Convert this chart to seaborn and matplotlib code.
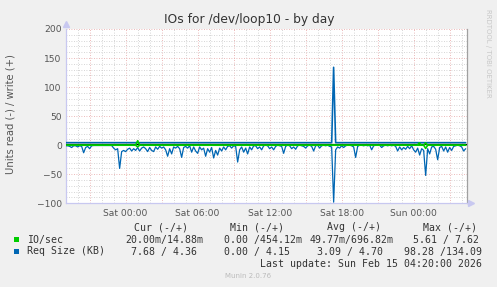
import numpy as np
import pandas as pd
import matplotlib
matplotlib.use("Agg")
import matplotlib.pyplot as plt
import matplotlib.transforms as mtransforms
from matplotlib.ticker import MultipleLocator, FixedLocator
import seaborn as sns

# ---------------- data ----------------
# time axis: hours relative to Sat 00:00, 10-minute samples for the read series
t_start = -5.0
step_h = 1.0 / 6.0
# Req Size read (KB) -- drawn on the negative side
req_read = [
    1, 1, 2, 4, 1, 1, 3, 1, 2, 13,
    4, 2, 6, 1, 0.5, 0.5, 0.5, 0.5, 0.5, 0.5,
    0.5, 0.5, 0.5, 0.5, 5, 8, 6, 40, 11, 9,
    11, 7, 5, 10, 6, 9, 4, 10, 5, 3,
    6, 11, 4, 9, 11, 3, 7, 2, 5, 3,
    8, 19, 6, 15, 3, 5, 2, 6, 21, 4,
    2, 5, 1, 12, 3, 10, 14, 3, 8, 5,
    19, 6, 12, 4, 22, 9, 17, 5, 10, 3,
    8, 2, 1, 5, 1, 2, 29, 8, 3, 12,
    5, 15, 3, 8, 1, 1, 6, 3, 8, 1,
    0, 1, 6, 3, 8, 2, 0, 1, 2, 14,
    2, 0, 1, 6, 3, 7, 1, 0, 1, 2,
    5, 1, 0, 2, 10, 1, 0, 5, 1, 0,
    1, 0, 2, 3, 98, 8, 3, 5, 1, 4,
    1, 0, 0, 1, 3, 21, 2, 0, 0, 1,
    0, 1, 0, 8, 1, 0, 0, 0, 4, 1,
    0, 1, 0, 1, 0, 2, 10, 3, 8, 4,
    7, 2, 6, 1, 8, 12, 5, 17, 6, 9,
    52, 6, 15, 3, 2, 7, 25, 4, 2, 10,
    3, 12, 4, 9, 2, 1, 0, 1, 3, 10,
    6,
]
# Req Size write (KB) -- breakpoints
req_write_t = [-5.0, 17.17, 17.33, 17.5, 28.33]
req_write_v = [4.4, 4.4, 134.09, 4.4, 4.4]
# IO/sec write and read
io_write_t = [-5.0, 0.83, 1.0, 1.17, 24.3, 24.47, 24.63, 24.83, 25.0, 25.17, 28.33]
io_write_v = [0.01, 0.01, 7.62, 0.01, 0.01, 4.0, 0.01, 0.01, 4.0, 0.01, 0.01]
io_read_t = [-5.0, 0.83, 1.0, 1.17, 24.83, 25.0, 25.17, 28.33]
io_read_v = [0.02, 0.02, 2.9, 0.02, 0.02, 5.61, 0.02, 0.02]

x_ticks = [0, 6, 12, 18, 24]
x_labels = ["Sat 00:00", "Sat 06:00", "Sat 12:00", "Sat 18:00", "Sun 00:00"]
y_ticks = [-100, -50, 0, 50, 100, 150, 200]

title = "IOs for /dev/loop10 - by day"
ylabel = "Units read (-) / write (+)"
legend_names = ["IO/sec", "Req Size (KB)"]
legend_colors = ["#00cc00", "#0066b3"]
col_headers = ["Cur (-/+)", "Min (-/+)", "Avg (-/+)", "Max (-/+)"]
row1_vals = ["20.00m/14.88m", "0.00 /454.12m", "49.77m/696.82m", "5.61 / 7.62"]
row2_vals = ["7.68 / 4.36", "0.00 / 4.15", "3.09 / 4.70", "98.28 /134.09"]
last_update = "Last update: Sun Feb 15 04:20:00 2026"
munin_ver = "Munin 2.0.76"
rrd_credit = "RRDTOOL / TOBI OETIKER"

# ---------------- figure ----------------
W, H = 497, 287
sns.set_style("white")
plt.rcParams["font.family"] = ["DejaVu Sans"]
fig = plt.figure(figsize=(W / 100, H / 100), dpi=100, facecolor="#f0f0f0")

def fx(px):
    return px / W

def fy(py):
    return 1 - py / H

L, R, T, B = 66.0, 466.7, 29.0, 203.3
ax = fig.add_axes([fx(L), fy(B), (R - L) / W, (B - T) / H])
ax.set_facecolor("white")

t_read = t_start + np.arange(len(req_read)) * step_h
df_read = pd.DataFrame({"t": t_read, "v": -np.array(req_read, dtype=float)})
df_wr = pd.DataFrame({"t": req_write_t, "v": req_write_v})
df_iow = pd.DataFrame({"t": io_write_t, "v": io_write_v})
df_ior = pd.DataFrame({"t": io_read_t, "v": -np.array(io_read_v)})

lw = 0.9
sns.lineplot(data=df_read, x="t", y="v", ax=ax, color="#0066b3", lw=lw, zorder=3)
sns.lineplot(data=df_wr, x="t", y="v", ax=ax, color="#0066b3", lw=lw * 1.3, zorder=3)
# zero rule (shifted one pixel up so it shows above the green lines)
off = mtransforms.offset_copy(ax.transData, fig=fig, x=0, y=1.2, units="dots")
ax.plot([-6, 30], [0, 0], color="black", lw=0.9, transform=off, zorder=4)
sns.lineplot(data=df_ior, x="t", y="v", ax=ax, color="#00cc00", lw=lw * 1.3, zorder=5)
sns.lineplot(data=df_iow, x="t", y="v", ax=ax, color="#00cc00", lw=lw * 1.3, zorder=5)

ax.set_xlim(-4.97, 28.42)
ax.set_ylim(-100, 200)
ax.set_xlabel("")
ax.set_ylabel("")

ax.xaxis.set_major_locator(FixedLocator(x_ticks))
ax.set_xticklabels(x_labels)
ax.xaxis.set_minor_locator(MultipleLocator(1))
ax.yaxis.set_major_locator(FixedLocator(y_ticks))
ax.yaxis.set_minor_locator(MultipleLocator(10))

# grid
dot = (0, (1, 2))
for v in np.arange(-3, 29, 3):
    ax.axvline(v, color="#e6a3a3", lw=0.6, ls=dot, zorder=1)
for v in np.arange(-4, 29, 1):
    if v % 3 != 0:
        ax.axvline(v, color="#c8c8c8", lw=0.6, ls=dot, zorder=1)
for v in range(-100, 201, 10):
    if v % 50 == 0:
        ax.axhline(v, color="#e6a3a3", lw=0.6, ls=dot, zorder=1)
    else:
        ax.axhline(v, color="#c8c8c8", lw=0.6, ls=dot, zorder=1)

ax.tick_params(axis="both", which="both", length=0, labelsize=6.6, colors="#555555", pad=3)
ax.tick_params(axis="x", pad=4)
ax.spines["top"].set_visible(False)
ax.spines["left"].set_color("#c8c8f0")
ax.spines["bottom"].set_color("#c8c8f0")
ax.spines["right"].set_color("#a0a0a0")
for s in ["left", "bottom", "right"]:
    ax.spines[s].set_linewidth(0.9)

# axis arrows
ax.plot([ax.get_xlim()[0]], [208], marker="^", ms=4, color="#c8c8f0", clip_on=False, zorder=6)
ax.plot([28.75], [-100], marker=">", ms=4, color="#c8c8f0", clip_on=False, zorder=6)

# texts
fig.text(fx(249), fy(19), title, ha="center", va="center", fontsize=8.8, color="#333333")
fig.text(fx(11), fy(114), ylabel, ha="center", va="center", rotation=90, fontsize=7.2, color="#555555")
fig.text(fx(488), fy(53), rrd_credit, ha="center", va="center", rotation=-90, fontsize=5.0, color="#c8c8c8")

mono = "DejaVu Sans Mono"
fs = 7.1
tc = "#333333"
header_x = [134.3, 230, 327.3, 422.7]
for hx, htxt in zip(header_x, col_headers):
    fig.text(fx(hx), fy(227), htxt, ha="left", va="center", family=mono, fontsize=fs, color=tc)

rows_y = [239.5, 251.5]
for ry, name, colr in zip(rows_y, legend_names, legend_colors):
    fig.patches.append(plt.Rectangle((fx(14), fy(ry + 2.7)), 5.4 / W, 5.4 / H,
                                     transform=fig.transFigure, facecolor=colr, edgecolor="none"))
    fig.text(fx(26.7), fy(ry), name, ha="left", va="center", family=mono, fontsize=fs, color=tc)

row1_x = [125, 224, 310, 413.3]
row2_x = [131, 224, 316.7, 404]
for ry, vals, xs in [(rows_y[0], row1_vals, row1_x), (rows_y[1], row2_vals, row2_x)]:
    for txt, lx in zip(vals, xs):
        fig.text(fx(lx), fy(ry), txt, ha="left", va="center", family=mono, fontsize=fs, color=tc)

fig.text(fx(482.5), fy(263.7), last_update, ha="right", va="center", family=mono, fontsize=fs, color=tc)
fig.text(fx(248), fy(276), munin_ver, ha="center", va="center", fontsize=5.0, color="#bbbbbb")

fig.savefig("out.png", dpi=100, facecolor=fig.get_facecolor())
